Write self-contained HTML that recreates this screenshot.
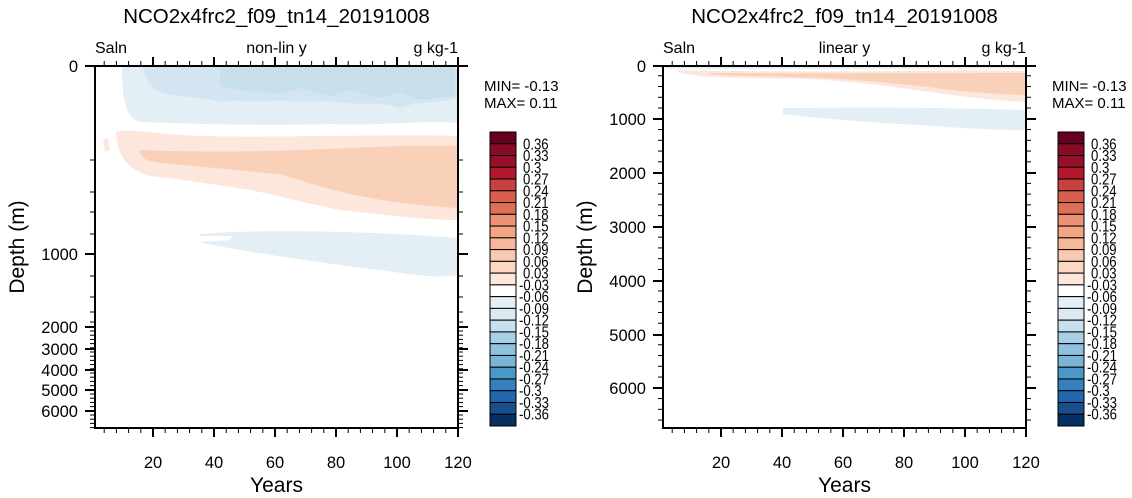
<!DOCTYPE html>
<html><head><meta charset="utf-8"><style>
body{margin:0;background:#fff;}
svg{display:block;font-family:"Liberation Sans",Arial,sans-serif;}
</style></head><body>
<svg id="s" width="1132" height="498" xmlns="http://www.w3.org/2000/svg">
<rect width="1132" height="498" fill="#fff"/>
<g>
<path d="M122,66 L458,66 L458,123 C430,120 380,126 330,124 C260,126 200,124 140,122 C126,118 122,100 122,66Z" fill="#e3eef5"/>
<path d="M143,66 L458,66 L458,98 C440,104 420,100 400,108 C380,100 360,106 340,102 C320,100 300,104 280,100 C260,104 240,98 220,102 C200,96 180,98 160,92 C150,88 145,80 143,66Z" fill="#d2e5f0"/>
<path d="M220,66 L455,66 L455,96 L420,100 L400,92 L380,98 L350,90 L330,96 L300,88 L280,94 L240,90 L220,86Z" fill="#c8dfec"/>
<path d="M116,132 C130,128 150,134 200,136 C280,138 380,134 458,136 L458,220 C420,220 380,214 340,210 C300,202 280,196 250,190 C200,182 170,178 150,176 C130,170 118,160 116,132Z" fill="#fde6dc"/>
<path d="M103,140 L108,138 L110,150 L105,152Z" fill="#fde6dc"/>
<path d="M140,150 C180,152 250,152 300,150 C360,148 420,144 458,146 L458,208 C430,206 400,204 360,196 C320,188 300,180 280,174 C250,172 200,166 170,164 C150,162 140,160 140,150Z" fill="#f9d0b8"/>
<path d="M200,234 L230,232 C300,230 380,232 458,238 L458,275 C440,278 420,276 380,270 C330,264 290,258 240,250 C220,246 205,244 200,242 L230,240 L232,236 L200,236Z" fill="#e3eef5"/>
</g>
<g>
<path d="M665,66 L1025,66 L1025,69 L665,69Z" fill="#e9f1f6"/>
<path d="M676,70 C720,71 800,72 900,71 C960,70 1000,70 1025,71 L1025,102 C990,100 960,96 930,92 C880,85 840,80 800,79 C760,78 720,78 700,76 C690,74 680,74 676,70Z" fill="#fde6dc"/>
<path d="M710,73 C800,74 900,73 1025,73 L1025,95 C990,94 950,90 920,86 C880,82 840,78 800,77 C760,76 730,76 710,74Z" fill="#f9d0b8"/>
<path d="M783,108 L800,108 C880,107 960,108 1025,110 L1025,130 C990,130 960,128 920,125 C860,122 820,118 790,115 L783,114Z" fill="#e3eef5"/>
</g>
<g id="axes" fill="none" stroke="#000"></g>
<g id="txt" fill="#000"></g>
</svg>
<script>
var ax=document.getElementById('axes'),tx=document.getElementById('txt'),NS='http://www.w3.org/2000/svg';
function L(x1,y1,x2,y2,w){var e=document.createElementNS(NS,'line');e.setAttribute('x1',x1);e.setAttribute('y1',y1);e.setAttribute('x2',x2);e.setAttribute('y2',y2);e.setAttribute('stroke-width',w||1);ax.appendChild(e);}
function T(x,y,s,fs,anc,rot,sx){var e=document.createElementNS(NS,'text');e.setAttribute('x',x);e.setAttribute('y',y);e.setAttribute('font-size',fs);e.setAttribute('text-anchor',anc||'middle');if(rot)e.setAttribute('transform','rotate(-90 '+x+' '+y+')');if(sx)e.setAttribute('transform','translate('+x+' 0) scale('+sx+' 1) translate('+(-x)+' 0)');e.textContent=s;tx.appendChild(e);}
function R(x,y,w,h,f){var e=document.createElementNS(NS,'rect');e.setAttribute('x',x);e.setAttribute('y',y);e.setAttribute('width',w);e.setAttribute('height',h);e.setAttribute('fill',f);e.setAttribute('stroke','#000');e.setAttribute('stroke-width',1);ax.appendChild(e);}
function plot(x0,x1,x20,yt,yb,yMajor,yMinor,sub){
  var ax0=document.createElementNS(NS,'rect');
  ax0.setAttribute('x',x0);ax0.setAttribute('y',yt);ax0.setAttribute('width',x1-x0);ax0.setAttribute('height',yb-yt);ax0.setAttribute('stroke-width',2);ax.appendChild(ax0);
  var dx=(x1-x20)/100;
  for(var yr=4;yr<=120;yr+=4){var x=x20+(yr-20)*dx; if(x<x0)continue; var maj=yr%20==0; L(x,yb,x,yb+(maj?9:5),maj?2:1);L(x,yt,x,yt-(maj?9:5),maj?2:1); if(maj)T(x,468,String(yr),16.5);}
  yMajor.forEach(function(p){L(x0,p[1],x0-10,p[1],2);L(x1,p[1],x1+10,p[1],2);T(x0-17,p[1]+6,p[0],16.5,'end');});
  yMinor.forEach(function(y){L(x0,y,x0-5,y,1);L(x1,y,x1+5,y,1);});
  var cx=(x0+x1)/2;
  T(cx,23,'NCO2x4frc2_f09_tn14_20191008',20.5);
  T(cx,492,'Years',21);
  T(x0,53,'Saln',16,'start');T(cx,53,sub,16);T(x1,53,'g kg-1',16,'end');
  T(x0-71,247,'Depth (m)',21,'middle',true);
}
var mlL=[160,192,212,234,276,297,312,322];for(var y=331;y<428;y+=4.2)mlL.push(y);
plot(95,458,153,66,428,[['0',66],['1000',254],['2000',327],['3000',349],['4000',370],['5000',390],['6000',411]],mlL,'non-lin y');
var mlR=[];for(var d=200;d<6800;d+=200){if(d%1000)mlR.push(65+d*0.0538);}
plot(663,1026,721,66,428,[['0',66],['1000',119],['2000',173],['3000',227],['4000',281],['5000',335],['6000',388]],mlR,'linear y');
var cols=['#67001f','#8a0b25','#980f29','#b2182b','#c6423e','#d6604d','#de6e58','#ea9273','#f4a582','#f7b799','#f9c9b1','#fbd7c4','#fde7dc','#ffffff','#e4eef5','#dbe9f2','#c8e0ed','#a8d0e4','#8fc2de','#78b5d7','#4b98c8','#3581bd','#2166ac','#1a4e8c','#053061'];
var labs=['0.36','0.33','0.3','0.27','0.24','0.21','0.18','0.15','0.12','0.09','0.06','0.03','-0.03','-0.06','-0.09','-0.12','-0.15','-0.18','-0.21','-0.24','-0.27','-0.3','-0.33','-0.36'];
[490,1058].forEach(function(bx){
  var y0=132,h=294/25;
  cols.forEach(function(c,i){R(bx,y0+i*h,26,h,c);});
  labs.forEach(function(l,i){T(bx+29+(l[0]=='-'?0:4),y0+(i+1)*h+5.5,l,15.5,'start',false,0.85);});
  T(bx-6,91,'MIN= -0.13',15,'start');T(bx-6,108,'MAX=  0.11',15,'start');
});
</script>
</body></html>
